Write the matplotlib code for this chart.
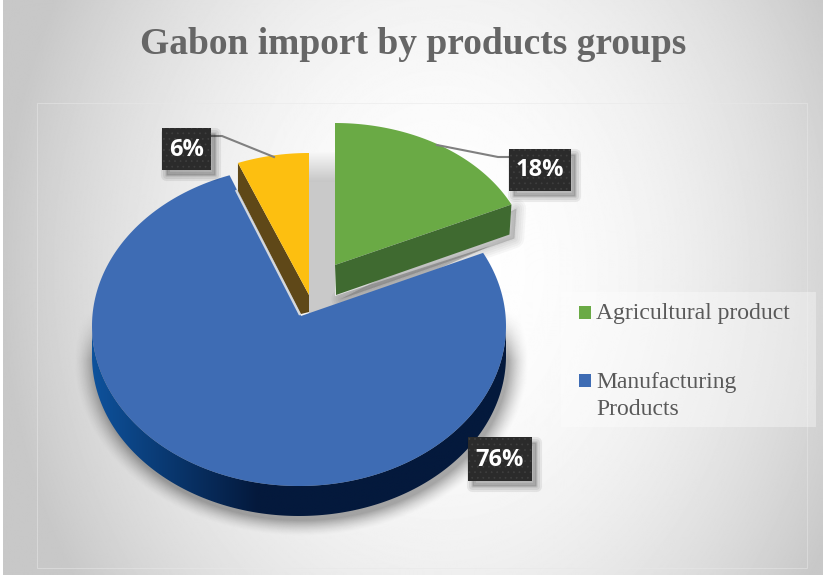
import numpy as np
import matplotlib.pyplot as plt
from matplotlib.patches import Polygon, Rectangle

labels = ["Agricultural product", "Manufacturing\nProducts", "Other"]
values = [18, 76, 6]
colors = ["#6aaa45", "#3e6cb4", "#fdbf10"]
side_colors = ["#3f6a30", "#04193c", "#5f4818"]
title = "Gabon import by products groups"

W, H = 823, 577
DEPTH = 30

fig = plt.figure(figsize=(W / 100, H / 100), dpi=100, facecolor="white")
ax = fig.add_axes([0, 0, 1, 1])
ax.set_xlim(0, W)
ax.set_ylim(H, 0)
ax.axis("off")


def arc(cx, cy, rx, ry, t1, t2, n=120):
    t = np.radians(np.linspace(t1, t2, n))
    return np.column_stack([cx + rx * np.cos(t), cy - ry * np.sin(t)])


def soft_shadow(pts, dx=4, dy=6, size=26, z=2, a=0.03):
    # stacked wide strokes fade out like a blurred drop shadow
    for lw in np.arange(2, size, 3):
        ax.add_patch(Polygon(pts + [dx, dy], closed=True, fc="black", ec="black",
                             lw=lw, alpha=a, joinstyle="round", zorder=z))


def gradient(arr, extent, clip, z, cmap="gray"):
    im = ax.imshow(arr, extent=extent, aspect="auto", zorder=z, cmap=cmap,
                   vmin=0, vmax=1, interpolation="bilinear")
    patch = Polygon(clip, closed=True, transform=ax.transData, fc="none", ec="none")
    ax.add_patch(patch)
    im.set_clip_path(patch)
    return im


# page background, light in the middle and grey towards the corners
yy, xx = np.mgrid[0:H, 0:W]
r = np.sqrt(((xx - 440) / 440.0) ** 2 + ((yy - 270) / 560.0) ** 2)
bg = 1 - 0.215 * np.clip(r, 0, 1) ** 2.0
ax.imshow(bg, extent=(3, W, 575, 0), aspect="auto", cmap="gray", vmin=0, vmax=1, zorder=0)

ax.add_patch(Rectangle((37, 103), 770, 465, fc="none", ec="#e8e8e8", lw=0.6, alpha=0.6, zorder=1))

# slice angles run clockwise from twelve o'clock
ends = 90 - np.cumsum(values) * 3.6
starts = np.concatenate([[90], ends[:-1]])

# main slice, two degrees wider each way for the perspective of the near side
b_c = (299, 326, 207, 160)
b_apex = np.array([[301, 316]])
b_arc = arc(*b_c, starts[1] + 2, ends[1] - 2, 240)
b_top = np.vstack([b_apex, b_arc])

# detached slice
g_apex = np.array([[335, 265]])
g_arc = arc(335, 265, 195, 142, starts[0], ends[0])
g_top = np.vstack([g_apex, g_arc])

# small slice
y_apex = np.array([[309, 295]])
y_arc = arc(309, 295, 193, 142, starts[2], ends[2])
y_top = np.vstack([y_apex, y_arc])

# blurred shadow under the pie, fading out towards its upper half
d = np.sqrt(((xx - 301) / 207.0) ** 2 + ((yy - 360) / 160.0) ** 2)
fall = np.clip((1.10 - d) / 0.10, 0, 1) ** 1.5
fade = np.clip((yy - 310) / 50.0, 0, 1)
shadow = np.zeros((H, W, 4))
shadow[..., 3] = 0.33 * fall * fade
ax.imshow(shadow, extent=(0, W, H, 0), aspect="auto", zorder=2)
ax.set_xlim(0, W)
ax.set_ylim(H, 0)

# outer wall of the main slice
wall_arc = arc(*b_c, 180, 360, 200)
wall = np.vstack([wall_arc, (wall_arc + [0, DEPTH])[::-1]])

# inner base seen through the gap
gap = np.array([[309, 152], [335, 152], [335, 296], [490, 246], [309, 326]])
gap_arr = np.clip(np.linspace(0.97, 0.78, 30), 0.78, 1)[:, None]
gradient(gap_arr, (309, 520, 182, 152), gap, 3)
ax.add_patch(Polygon(np.array([[309, 182], [335, 182], [335, 296], [490, 246], [309, 326]]),
                     closed=True, fc="#c9c9c9", ec="none", zorder=3))

wall_x = np.clip(np.linspace(0, 1, 256) / 0.4, 0, 1)[None, :]
c0, c1 = np.array([0x0e, 0x52, 0x9c]) / 255, np.array([0x04, 0x19, 0x3c]) / 255
wall_img = (c0[None, None, :] * (1 - wall_x[..., None]) + c1[None, None, :] * wall_x[..., None])
gradient(wall_img, (92, 506, 520, 320), wall, 4)

ax.add_patch(Polygon(b_top, closed=True, fc=colors[1], ec="none", zorder=5))

# wall of the small slice, shallower at the apex than at the rim
y_left = y_arc[0]
y_wall = np.array([y_left, y_left + [0, 28], y_apex[0] + [-8, 19], y_apex[0] + [0, 17], y_apex[0]])
ax.plot([y_wall[1, 0] - 1.5, y_wall[2, 0] - 1.5], [y_wall[1, 1], y_wall[2, 1]],
        color="#d4d8de", lw=1.6, zorder=6)
ax.add_patch(Polygon(y_wall, closed=True, fc=side_colors[2], ec="none", zorder=6))
ax.add_patch(Polygon(y_top, closed=True, fc=colors[2], ec="none", zorder=7))

# detached slice and its front wall
g_tip = g_arc[-1]
g_wall = np.array([g_apex[0], g_tip, g_tip + [-2, DEPTH], g_apex[0] + [1, DEPTH]])
soft_shadow(np.vstack([g_tip, g_tip + [-2, DEPTH], g_apex[0] + [1, DEPTH]]), dx=5, dy=4, size=16, z=4)
ax.add_patch(Polygon(g_top, closed=True, fc=colors[0], ec="none", zorder=8))
ax.add_patch(Polygon(g_wall, closed=True, fc=side_colors[0], ec="none", zorder=8))

# leader lines
ax.plot([211, 222, 274], [136, 136, 157], color="#808080", lw=1.5, zorder=9)
ax.plot([437, 498, 509], [145, 157, 157], color="#808080", lw=1.5, zorder=9)

# value labels on dark boxes
plt.rcParams["hatch.linewidth"] = 0.5
boxes = [(509, 149, 62, 42), (468, 437, 64, 44), (162, 128, 49, 42)]
for (x, y, w, h), v in zip(boxes, values):
    soft_shadow(np.array([[x, y], [x + w, y], [x + w, y + h], [x, y + h]]), dx=4, dy=5, size=11, z=9, a=0.07)
    ax.add_patch(Rectangle((x, y), w, h, fc="#2b2b2b", ec="#3f3f3f", hatch="...", lw=0, zorder=10))
    ax.text(x + w / 2, y + h / 2 + 0.5, f"{v}%", color="white", fontsize=17, fontweight="bold",
            family="Open Sans", ha="center", va="center", zorder=11)

# legend
ax.add_patch(Rectangle((561, 292), 255, 135, fc="white", ec="none", alpha=0.35, zorder=1))
ax.add_patch(Rectangle((579, 306), 12, 12.5, fc=colors[0], ec="none", zorder=2))
ax.add_patch(Rectangle((579, 374), 12, 12.5, fc=colors[1], ec="none", zorder=2))
ax.text(596, 314, labels[0], fontsize=17, family="Liberation Serif", color="#595959",
        va="center", ha="left", zorder=2)
ax.text(596, 396, labels[1], fontsize=17, family="Liberation Serif", color="#595959",
        va="center", ha="left", linespacing=1.38, zorder=2)

ax.text(413, 44, title, fontsize=27, fontweight="bold", family="Liberation Serif",
        color="#666666", ha="center", va="center", zorder=2)

fig.savefig("out.png", dpi=100)
